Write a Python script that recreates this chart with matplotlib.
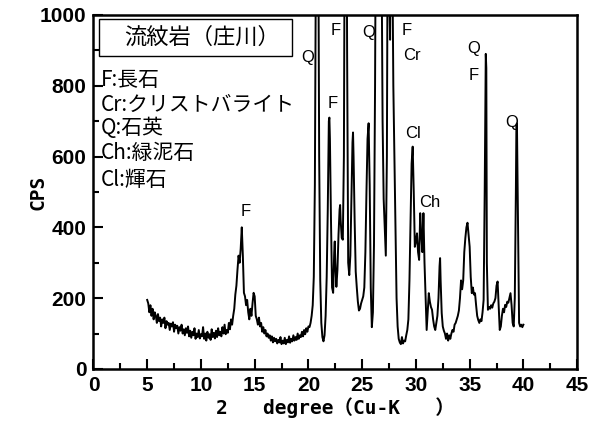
import matplotlib
matplotlib.use("Agg")
import matplotlib.pyplot as plt
from matplotlib.patches import Rectangle

plt.rcParams['font.family'] = ['Noto Sans CJK JP', 'DejaVu Sans']

# XRD pattern (2theta, CPS)
two_theta = [
    5.0, 5.1, 5.2, 5.3, 5.4, 5.5, 5.6, 5.7, 5.8, 5.9,
    6.0, 6.1, 6.2, 6.3, 6.4, 6.5, 6.6, 6.7, 6.8, 6.9,
    7.0, 7.1, 7.2, 7.3, 7.4, 7.5, 7.6, 7.7, 7.8, 7.9,
    8.0, 8.1, 8.2, 8.3, 8.4, 8.5, 8.6, 8.7, 8.8, 8.9,
    9.0, 9.1, 9.2, 9.3, 9.4, 9.5, 9.6, 9.7, 9.8, 9.9,
    10.0, 10.1, 10.2, 10.3, 10.4, 10.5, 10.6, 10.7, 10.8, 10.9,
    11.0, 11.1, 11.2, 11.3, 11.4, 11.5, 11.6, 11.7, 11.8, 11.9,
    12.0, 12.1, 12.2, 12.3, 12.4, 12.5, 12.6, 12.7, 12.8, 12.9,
    13.0, 13.1, 13.2, 13.3, 13.4, 13.5, 13.6, 13.7, 13.8, 13.9,
    14.0, 14.1, 14.2, 14.3, 14.4, 14.5, 14.6, 14.7, 14.8, 14.9,
    15.0, 15.1, 15.2, 15.3, 15.4, 15.5, 15.6, 15.7, 15.8, 15.9,
    16.0, 16.1, 16.2, 16.3, 16.4, 16.5, 16.6, 16.7, 16.8, 16.9,
    17.0, 17.1, 17.2, 17.3, 17.4, 17.5, 17.6, 17.7, 17.8, 17.9,
    18.0, 18.1, 18.2, 18.3, 18.4, 18.5, 18.6, 18.7, 18.8, 18.9,
    19.0, 19.1, 19.2, 19.3, 19.4, 19.5, 19.6, 19.7, 19.8, 19.9,
    20.0, 20.1, 20.2, 20.3, 20.4, 20.5, 20.6, 20.7, 20.8, 20.9,
    21.0, 21.1, 21.2, 21.3, 21.4, 21.5, 21.6, 21.7, 21.8, 21.9,
    21.95, 22.0, 22.1, 22.2, 22.3, 22.4, 22.45, 22.5, 22.6, 22.7,
    22.8, 22.9, 22.95, 23.0, 23.1, 23.2, 23.3, 23.4, 23.5, 23.6,
    23.7, 23.8, 23.9, 24.0, 24.1, 24.15, 24.2, 24.3, 24.4, 24.5,
    24.6, 24.7, 24.8, 24.9, 25.0, 25.1, 25.2, 25.3, 25.4, 25.5,
    25.6, 25.7, 25.8, 25.9, 26.0, 26.1, 26.2, 26.3, 26.5, 26.7,
    26.8, 26.9, 27.0, 27.1, 27.2, 27.3, 27.4, 27.5, 27.6, 27.7,
    27.8, 27.9, 28.0, 28.1, 28.2, 28.3, 28.4, 28.5, 28.6, 28.7,
    28.8, 28.9, 29.0, 29.1, 29.2, 29.3, 29.4, 29.5, 29.6, 29.7,
    29.8, 29.9, 30.0, 30.1, 30.2, 30.3, 30.4, 30.5, 30.6, 30.7,
    30.8, 30.9, 31.0, 31.1, 31.2, 31.3, 31.4, 31.5, 31.6, 31.7,
    31.8, 31.9, 32.0, 32.1, 32.2, 32.25, 32.3, 32.4, 32.5, 32.6,
    32.7, 32.8, 32.9, 33.0, 33.1, 33.2, 33.3, 33.4, 33.5, 33.6,
    33.7, 33.8, 33.9, 34.0, 34.1, 34.2, 34.3, 34.4, 34.5, 34.6,
    34.7, 34.8, 34.9, 35.0, 35.1, 35.2, 35.3, 35.4, 35.5, 35.6,
    35.7, 35.8, 35.9, 36.0, 36.1, 36.2, 36.3, 36.4, 36.5, 36.55,
    36.6, 36.7, 36.8, 36.9, 37.0, 37.1, 37.2, 37.3, 37.4, 37.5,
    37.6, 37.7, 37.8, 37.9, 38.0, 38.1, 38.2, 38.3, 38.4, 38.5,
    38.6, 38.7, 38.8, 38.9, 39.0, 39.1, 39.2, 39.3, 39.35, 39.4,
    39.5, 39.6, 39.7, 39.8, 39.9, 40.0,
]
cps = [
    195, 185, 160, 180, 150, 170, 140, 160, 150, 130,
    155, 135, 145, 120, 140, 130, 145, 115, 135, 125,
    130, 110, 128, 120, 132, 105, 125, 115, 122, 100,
    118, 108, 125, 100, 112, 95, 115, 102, 120, 92,
    108, 88, 105, 95, 115, 85, 100, 90, 110, 86,
    98, 92, 118, 85, 100, 80, 105, 88, 98, 82,
    112, 90, 102, 86, 108, 90, 115, 95, 105, 92,
    118, 100, 125, 98, 110, 102, 130, 112, 140, 125,
    150, 170, 210, 235, 280, 320, 300, 340, 400, 320,
    215, 205, 180, 195, 160, 140, 170, 150, 185, 215,
    205, 150, 140, 125, 145, 120, 130, 105, 118, 100,
    110, 92, 100, 88, 95, 80, 92, 75, 88, 78,
    85, 72, 82, 75, 90, 70, 80, 72, 88, 70,
    82, 75, 92, 74, 85, 78, 95, 80, 90, 82,
    100, 85, 95, 90, 105, 92, 110, 98, 115, 105,
    120, 118, 130, 150, 180, 260, 520, 1200, 2000, 1400,
    600, 250, 130, 90, 78, 95, 150, 260, 450, 700,
    710, 650, 420, 230, 215, 330, 360, 300, 232, 280,
    380, 450, 463, 420, 370, 365, 600, 1500, 1800, 900,
    300, 265, 320, 480, 640, 668, 600, 420, 275, 230,
    190, 165, 170, 185, 195, 205, 230, 330, 500, 650,
    694, 520, 230, 118, 160, 350, 800, 1500, 3000, 2500,
    1200, 700, 480, 400, 320, 600, 1500, 1100, 930, 1500,
    1200, 800, 600, 400, 200, 120, 85, 75, 70, 90,
    72, 80, 78, 95, 110, 140, 250, 420, 580, 628,
    500, 345, 360, 383, 330, 308, 440, 380, 330, 440,
    300, 200, 110, 160, 214, 190, 175, 167, 140, 120,
    110, 130, 150, 200, 290, 313, 250, 158, 120, 108,
    100, 85, 100, 80, 95, 85, 100, 110, 105, 125,
    130, 140, 150, 165, 200, 250, 225, 250, 330, 370,
    400, 413, 380, 345, 260, 214, 230, 210, 214, 180,
    150, 138, 130, 140, 135, 160, 195, 500, 890, 850,
    300, 167, 175, 170, 180, 173, 185, 190, 200, 235,
    247, 180, 110, 120, 150, 170, 160, 181, 175, 190,
    187, 200, 214, 180, 130, 120, 200, 500, 690, 694,
    400, 130, 120, 125, 118, 125,
]

# peak labels: (text, 2theta, CPS)
peak_text = ['F', 'Q', 'F', 'F', 'Q', 'F', 'Cr', 'Cl', 'Ch', 'Q', 'F', 'Q']
peak_x = [14.2, 19.9, 22.5, 22.3, 25.6, 29.1, 29.6, 29.7, 31.3, 35.4, 35.4, 38.9]
peak_y = [445, 880, 955, 750, 950, 955, 885, 665, 470, 905, 830, 695]

legend_lines = ['F:長石', 'Cr:クリストバライト', 'Q:石英', 'Ch:緑泥石', 'Cl:輝石']

fig = plt.figure(figsize=(5.99, 4.32), dpi=100)
ax = fig.add_axes([0.156, 0.146, 0.8075, 0.8194])

ax.plot(two_theta, cps, color='black', lw=1.4)

ax.set_xlim(0, 45)
ax.set_ylim(0, 1000)
ax.set_xticks(range(0, 46, 5))
ax.set_xticks([2.5 + 5 * i for i in range(9)], minor=True)
ax.set_yticks(range(0, 1001, 200))
ax.set_yticks(range(100, 1000, 200), minor=True)
ax.tick_params(which='both', direction='in', top=False, right=False, width=1.5)
ax.tick_params(which='major', length=7, labelsize=15, pad=5)
ax.tick_params(which='minor', length=4)
for lab in ax.get_xticklabels() + ax.get_yticklabels():
    lab.set_fontfamily(['Liberation Sans', 'DejaVu Sans'])
    lab.set_fontweight('bold')
for s in ax.spines.values():
    s.set_linewidth(1.8)

ax.set_ylabel('CPS', fontsize=14, fontweight='bold',
              family=['DejaVu Sans Mono', 'DejaVu Sans'])
ax.yaxis.set_label_coords(-0.095, 0.5)
ax.set_xlabel('2   degree（Cu-K   ）', fontsize=14, fontweight='bold', labelpad=2,
              family=['DejaVu Sans Mono', 'Noto Sans CJK JP'])

for t, x, y in zip(peak_text, peak_x, peak_y):
    ax.text(x, y, t, fontsize=12, ha='center', va='center', family=['Liberation Sans', 'DejaVu Sans'])

ax.add_patch(Rectangle((0.0124, 0.884), 0.399, 0.104, transform=ax.transAxes,
                       fill=False, edgecolor='black', lw=1.0))
ax.text(0.225, 0.936, '流紋岩（庄川）', transform=ax.transAxes, fontsize=16,
        ha='center', va='center')

legend_y = [0.816, 0.746, 0.681, 0.610, 0.534]
for t, y in zip(legend_lines, legend_y):
    ax.text(0.016, y, t, transform=ax.transAxes, fontsize=15, ha='left', va='center')

fig.savefig('out.png', dpi=100)
